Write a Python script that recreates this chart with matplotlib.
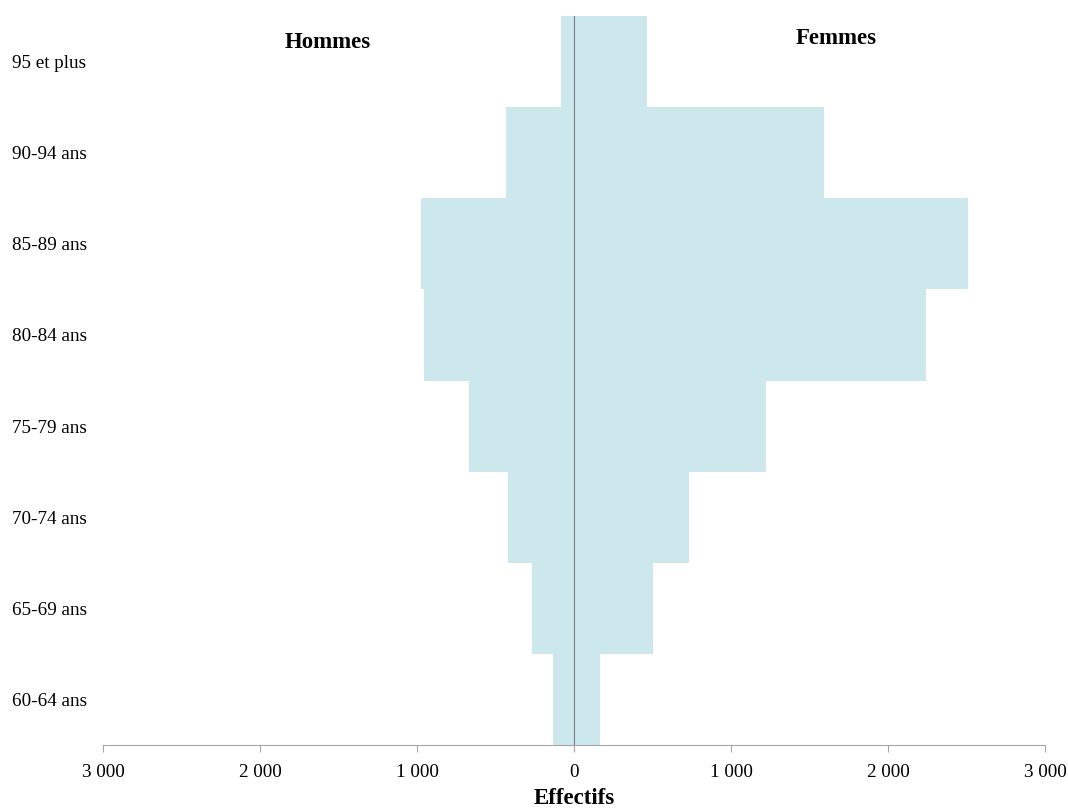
import matplotlib.pyplot as plt
from matplotlib.ticker import FuncFormatter

plt.rcParams['font.family'] = ['Liberation Serif', 'DejaVu Serif']

# Pyramide des âges : effectifs par tranche d'âge
ages = ['60-64 ans', '65-69 ans', '70-74 ans', '75-79 ans',
        '80-84 ans', '85-89 ans', '90-94 ans', '95 et plus']
hommes = [134, 267, 420, 669, 955, 975, 433, 83]
femmes = [166, 503, 732, 1223, 2242, 2510, 1592, 465]

couleur = '#cce8ec'
gris = '#a6a6a6'

fig = plt.figure(figsize=(10.68, 8.1), dpi=100)
ax = fig.add_axes([103 / 1068, 65 / 810, 942 / 1068, 729 / 810])

pos = list(range(len(ages)))
ax.barh(pos, [-h for h in hommes], height=1.0, color=couleur, linewidth=0)
ax.barh(pos, femmes, height=1.0, color=couleur, linewidth=0)
ax.axvline(0, color='#808080', linewidth=0.8)

ax.set_xlim(-3000, 3000)
ax.set_ylim(-0.5, len(ages) - 0.5)
ax.set_xticks([-3000, -2000, -1000, 0, 1000, 2000, 3000])
ax.xaxis.set_major_formatter(FuncFormatter(lambda v, p: f'{abs(v):,.0f}'.replace(',', ' ')))
ax.tick_params(axis='x', direction='out', length=5, color=gris, labelsize=13.8, pad=8.5)

ax.set_yticks(pos, labels=ages)
for lbl in ax.get_yticklabels():
    lbl.set_ha('left')
ax.tick_params(axis='y', length=0, labelsize=13.8, pad=65.5)

for s in ['top', 'right', 'left']:
    ax.spines[s].set_visible(False)
ax.spines['bottom'].set_color(gris)

ax.set_xlabel('Effectifs', fontsize=16.5, fontweight='bold', labelpad=5.5)
fig.text(328 / 1068, 1 - 42 / 810, 'Hommes', fontsize=16.5, fontweight='bold', ha='center', va='center')
fig.text(836 / 1068, 1 - 38 / 810, 'Femmes', fontsize=16.5, fontweight='bold', ha='center', va='center')

fig.savefig('out.png', dpi=100)
